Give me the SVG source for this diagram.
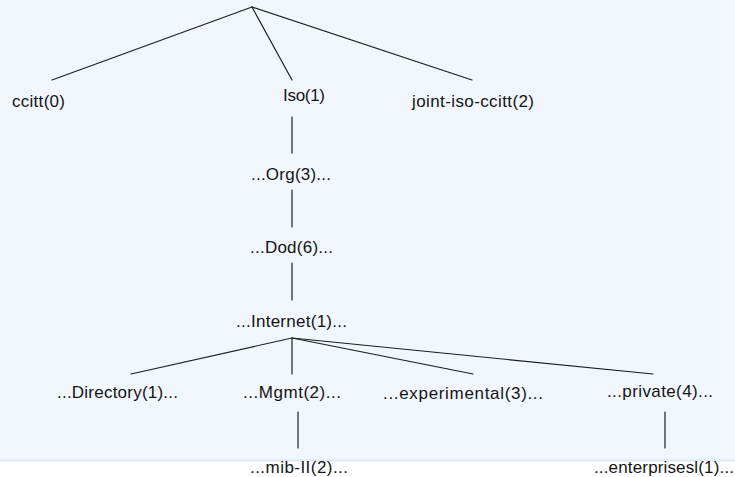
<svg xmlns="http://www.w3.org/2000/svg" width="735" height="477" viewBox="0 0 735 477">
  <style>
    .edge { stroke: #1e1e1e; stroke-width: 1.2; fill: none; stroke-linecap: round; }
    .label { font-family: "Liberation Sans", Arial, sans-serif; font-size: 17px; fill: #141414; }
  </style>
  <!-- page background with a pale panel and its lower edge -->
  <rect x="0" y="0" width="735" height="477" fill="#ffffff"/>
  <rect x="0" y="0" width="735" height="460" fill="#f1f7fd"/>
  <rect x="0" y="459.5" width="735" height="2" fill="#d9e9f8"/>

  <g id="connectors">
    <line class="edge" x1="252" y1="7" x2="52" y2="80"/>
    <line class="edge" x1="252" y1="7" x2="292" y2="80"/>
    <line class="edge" x1="252" y1="7" x2="472" y2="80"/>
    <line class="edge" x1="292" y1="117" x2="292" y2="153"/>
    <line class="edge" x1="292" y1="190" x2="292" y2="227"/>
    <line class="edge" x1="292" y1="263" x2="292" y2="300"/>
    <line class="edge" x1="292" y1="338" x2="131" y2="374"/>
    <line class="edge" x1="292" y1="338" x2="292" y2="374"/>
    <line class="edge" x1="292" y1="338" x2="473" y2="374"/>
    <line class="edge" x1="292" y1="338" x2="653" y2="374"/>
    <line class="edge" x1="298" y1="412" x2="298" y2="448"/>
    <line class="edge" x1="665" y1="412" x2="665" y2="448"/>
  </g>

  <g id="node-ccitt"><text class="label" x="12" y="107" textLength="53">ccitt(0)</text></g>
  <g id="node-iso"><text class="label" x="283" y="101" textLength="42">Iso(1)</text></g>
  <g id="node-joint"><text class="label" x="412" y="107" textLength="122">joint-iso-ccitt(2)</text></g>
  <g id="node-org"><text class="label" x="251" y="180" textLength="80">...Org(3)...</text></g>
  <g id="node-dod"><text class="label" x="250" y="253" textLength="83">...Dod(6)...</text></g>
  <g id="node-internet"><text class="label" x="236" y="327" textLength="111">...Internet(1)...</text></g>
  <g id="node-directory"><text class="label" x="57" y="398" textLength="121">...Directory(1)...</text></g>
  <g id="node-mgmt"><text class="label" x="243" y="398" textLength="98">...Mgmt(2)...</text></g>
  <g id="node-experimental"><text class="label" x="383" y="399" textLength="160">...experimental(3)...</text></g>
  <g id="node-private"><text class="label" x="607" y="397" textLength="106">...private(4)...</text></g>
  <g id="node-mib"><text class="label" x="250" y="473" textLength="98">...mib-II(2)...</text></g>
  <g id="node-enterprises"><text class="label" x="594" y="473" textLength="140">...enterprisesl(1)...</text></g>
</svg>
